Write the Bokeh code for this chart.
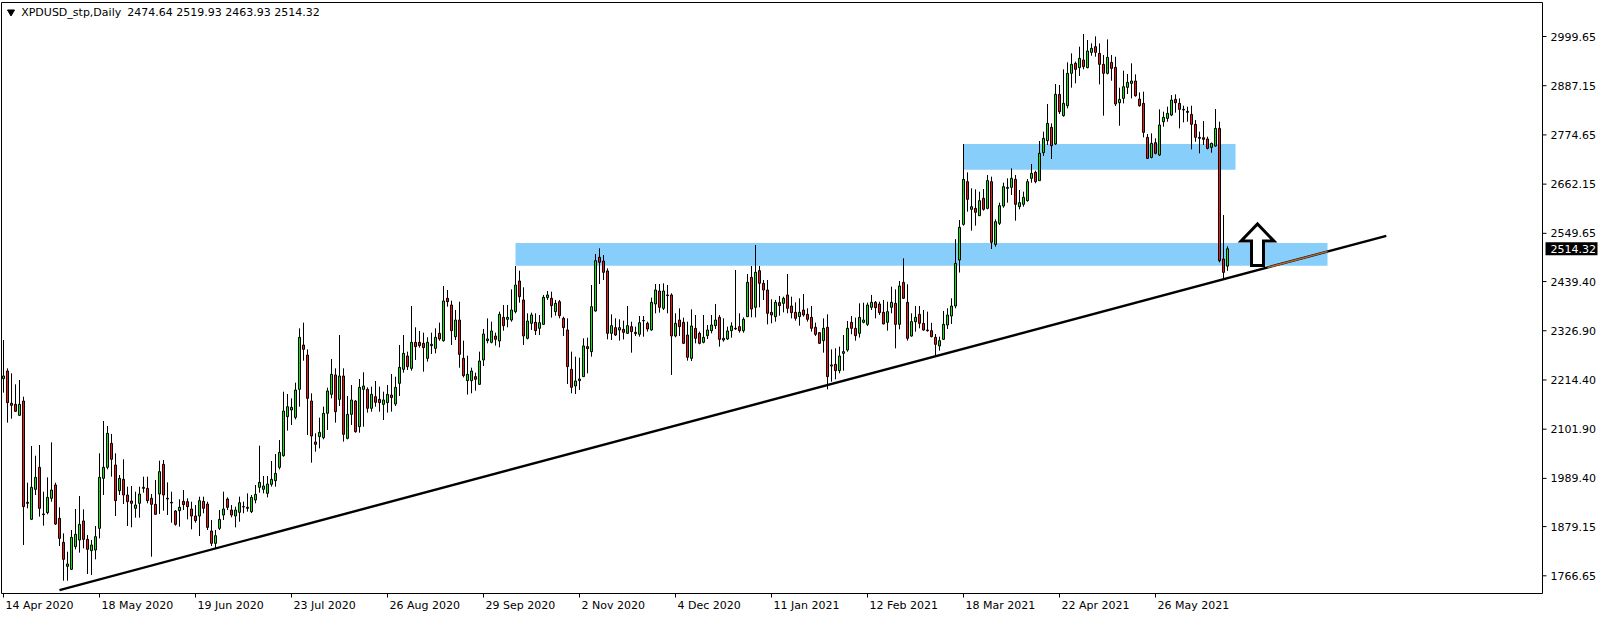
from bokeh.plotting import figure
from bokeh.models import Range1d, ColumnDataSource
from bokeh.core.properties import value
from bokeh.embed import file_html
from bokeh.resources import INLINE

symbol = "XPDUSD_stp,Daily"
last_ohlc = [2474.64, 2519.93, 2463.93, 2514.32]

opens = [
    2217.4, 2234.9, 2161.0, 2158.7, 2133.6, 2166.3, 1934.6, 1895.8, 1964.4, 2014.7,
    1908.0, 1911.0, 1943.8, 1974.3, 1898.1, 1843.2, 1788.3, 1781.4, 1833.3, 1848.5,
    1892.0, 1850.0, 1824.1, 1825.7, 1875.2, 1989.5, 2014.7, 2069.5, 2020.0, 1961.3,
    1987.2, 1951.4, 1937.7, 1920.9, 1932.4, 1966.6, 1966.6, 1943.8, 1930.1, 1953.7,
    2021.5, 1942.2, 1934.6, 1914.8, 1915.6, 1936.9, 1936.1, 1919.4, 1903.4, 1903.4,
    1936.9, 1930.8, 1869.1, 1840.9, 1875.2, 1905.6, 1942.2, 1917.1, 1903.4, 1911.8,
    1924.7, 1923.2, 1913.3, 1939.9, 1968.9, 1964.3, 1955.2, 1975.8, 1984.1, 2014.6,
    2041.3, 2130.5, 2145.7, 2128.9, 2193.0, 2294.3, 2271.4, 2166.3, 2072.6, 2084.8,
    2082.5, 2138.1, 2181.6, 2225.8, 2170.1, 2223.5, 2081.0, 2135.8, 2166.3, 2107.6,
    2193.0, 2193.0, 2149.6, 2176.2, 2170.1, 2158.7, 2162.5, 2180.0, 2159.5, 2206.7,
    2238.7, 2269.2, 2241.0, 2300.5, 2300.5, 2298.2, 2263.9, 2292.9, 2286.7, 2321.0,
    2304.3, 2401.1, 2385.8, 2313.4, 2351.5, 2263.9, 2212.8, 2212.8, 2222.0, 2204.4,
    2260.1, 2304.3, 2300.5, 2314.9, 2303.5, 2357.6, 2353.1, 2351.5, 2370.6, 2440.7,
    2397.3, 2309.6, 2343.9, 2346.2, 2332.5, 2341.6, 2402.6, 2401.1, 2370.6, 2393.4,
    2355.3, 2328.7, 2238.7, 2200.6, 2212.8, 2222.0, 2290.6, 2279.1, 2372.1, 2494.8,
    2486.4, 2463.6, 2321.0, 2334.0, 2328.7, 2330.2, 2321.0, 2336.3, 2323.3, 2318.8,
    2349.9, 2343.9, 2328.7, 2388.1, 2417.8, 2378.2, 2408.7, 2408.7, 2315.0, 2351.5,
    2346.2, 2317.2, 2263.9, 2332.5, 2321.0, 2300.5, 2315.7, 2327.1, 2338.6, 2357.6,
    2309.6, 2308.1, 2327.1, 2332.5, 2336.3, 2327.1, 2359.1, 2449.1, 2380.5, 2464.3,
    2435.4, 2420.1, 2369.1, 2359.1, 2391.2, 2389.6, 2408.7, 2383.5, 2369.1, 2359.1,
    2374.4, 2364.5, 2357.6, 2334.8, 2322.6, 2304.3, 2334.8, 2246.4, 2250.2, 2235.7,
    2275.3, 2282.9, 2346.2, 2332.5, 2321.0, 2346.2, 2341.6, 2380.5, 2391.9, 2388.1,
    2369.1, 2346.2, 2380.5, 2389.6, 2341.6, 2437.6, 2391.9, 2314.9, 2347.7, 2364.5,
    2343.9, 2328.7, 2327.1, 2311.9, 2292.1, 2307.3, 2340.1, 2360.7, 2383.5, 2488.7,
    2570.2, 2667.8, 2604.5, 2606.8, 2590.0, 2629.7, 2606.8, 2667.8, 2524.5, 2572.5,
    2612.1, 2652.5, 2654.8, 2673.1, 2610.6, 2616.0, 2624.3, 2675.4, 2689.1, 2670.1,
    2734.1, 2761.5, 2792.0, 2753.9, 2867.4, 2818.7, 2841.5, 2915.5, 2938.3, 2928.4,
    2946.0, 2928.4, 2963.4, 2976.4, 2961.1, 2936.0, 2915.4, 2940.5, 2929.1, 2848.3,
    2858.2, 2883.4, 2892.5, 2897.9, 2856.7, 2846.8, 2769.1, 2723.3, 2756.9, 2728.7,
    2804.9, 2812.5, 2820.1, 2855.9, 2846.8, 2833.1, 2828.5, 2821.6, 2798.8, 2769.1,
    2768.3, 2765.3, 2746.2, 2749.3, 2789.6, 2490.9, 2474.64,
]
highs = [
    2305.8, 2241.0, 2229.6, 2204.4, 2214.3, 2176.2, 1979.6, 2063.4, 2041.3, 2065.7,
    1959.0, 1991.8, 2071.8, 1979.6, 1923.2, 1863.8, 1821.8, 1871.4, 1919.4, 1949.1,
    1918.6, 1859.9, 1848.5, 1880.5, 2046.7, 2120.6, 2109.2, 2090.9, 2046.7, 1997.1,
    2033.0, 1970.5, 1972.0, 1959.0, 1970.5, 1993.3, 1993.3, 1953.7, 1985.7, 2029.9,
    2031.4, 1980.3, 1959.0, 1917.1, 1941.5, 1962.8, 1943.8, 1936.1, 1928.5, 1947.6,
    1947.6, 1936.1, 1894.2, 1871.4, 1917.1, 1959.0, 1946.0, 1928.5, 1924.7, 1947.6,
    1936.1, 1955.2, 1951.4, 1974.3, 2064.2, 1994.8, 1994.8, 2029.1, 2045.1, 2077.1,
    2187.6, 2182.3, 2172.4, 2208.2, 2332.4, 2345.4, 2284.4, 2183.8, 2092.4, 2128.2,
    2153.4, 2196.8, 2262.4, 2241.0, 2317.2, 2241.0, 2177.8, 2202.9, 2168.6, 2216.6,
    2231.9, 2197.6, 2199.1, 2212.1, 2199.1, 2187.7, 2202.9, 2228.1, 2222.0, 2294.4,
    2317.2, 2279.1, 2383.5, 2334.8, 2326.4, 2322.6, 2311.9, 2322.6, 2332.5, 2345.4,
    2429.3, 2420.1, 2395.7, 2374.4, 2393.4, 2304.3, 2270.0, 2242.5, 2231.1, 2279.1,
    2331.0, 2355.3, 2347.7, 2322.6, 2370.6, 2385.8, 2385.8, 2421.6, 2475.0, 2464.3,
    2426.2, 2366.8, 2368.3, 2366.8, 2362.9, 2408.7, 2417.8, 2416.3, 2397.3, 2397.3,
    2359.1, 2355.3, 2279.1, 2267.7, 2265.4, 2309.6, 2311.1, 2431.5, 2502.4, 2515.4,
    2500.1, 2469.6, 2364.5, 2355.3, 2353.1, 2350.0, 2383.5, 2347.7, 2336.3, 2360.7,
    2360.7, 2347.7, 2402.6, 2433.8, 2433.8, 2435.4, 2431.5, 2412.5, 2366.8, 2378.2,
    2356.9, 2347.7, 2375.9, 2362.9, 2324.9, 2362.9, 2340.1, 2362.9, 2388.1, 2362.9,
    2355.3, 2336.3, 2346.2, 2465.8, 2366.8, 2357.6, 2456.7, 2475.0, 2523.0, 2475.0,
    2443.0, 2443.0, 2398.8, 2397.3, 2406.4, 2404.9, 2456.7, 2404.9, 2391.9, 2401.1,
    2411.0, 2378.2, 2383.5, 2345.4, 2323.3, 2355.3, 2364.5, 2284.4, 2286.7, 2290.6,
    2317.2, 2349.2, 2360.7, 2356.9, 2389.6, 2391.2, 2391.2, 2408.7, 2395.0, 2393.4,
    2397.3, 2393.4, 2427.7, 2421.6, 2440.7, 2492.5, 2433.1, 2366.8, 2383.5, 2383.5,
    2374.4, 2370.6, 2345.0, 2319.5, 2313.4, 2372.1, 2378.2, 2401.1, 2536.3, 2580.1,
    2753.9, 2689.1, 2652.5, 2650.2, 2644.9, 2651.0, 2683.0, 2679.2, 2581.7, 2619.8,
    2665.5, 2675.4, 2698.2, 2683.0, 2648.7, 2644.9, 2673.9, 2708.2, 2692.9, 2760.8,
    2782.1, 2845.4, 2801.1, 2891.1, 2888.8, 2924.6, 2940.6, 2961.2, 2942.1, 2976.4,
    3005.4, 2991.6, 2984.0, 3000.0, 2984.0, 2957.3, 2993.0, 2957.3, 2953.5, 2882.6,
    2921.5, 2913.9, 2938.3, 2913.1, 2871.9, 2873.5, 2776.7, 2778.2, 2766.8, 2833.1,
    2827.8, 2839.2, 2865.8, 2867.4, 2858.2, 2841.5, 2839.2, 2841.5, 2808.7, 2782.1,
    2806.4, 2770.6, 2756.9, 2833.8, 2804.9, 2591.5, 2519.93,
]
lows = [
    2185.4, 2116.8, 2125.9, 2141.9, 2132.0, 1837.1, 1920.9, 1894.3, 1951.4, 1901.9,
    1881.3, 1907.2, 1936.2, 1882.8, 1834.8, 1755.5, 1755.5, 1779.9, 1827.2, 1819.6,
    1829.5, 1770.8, 1768.5, 1804.3, 1852.3, 1951.4, 2010.1, 1993.3, 1903.4, 1951.4,
    1930.8, 1880.5, 1877.5, 1899.6, 1899.6, 1956.7, 1932.4, 1810.4, 1907.2, 1908.0,
    1915.6, 1905.6, 1888.1, 1881.3, 1879.0, 1917.1, 1895.7, 1872.9, 1888.1, 1857.6,
    1909.5, 1871.4, 1834.8, 1829.4, 1871.4, 1894.2, 1917.1, 1900.3, 1877.4, 1890.4,
    1909.5, 1913.3, 1910.0, 1932.3, 1956.7, 1955.2, 1946.0, 1970.5, 1970.5, 2010.0,
    2039.0, 2098.5, 2111.4, 2124.4, 2153.3, 2258.5, 2088.6, 2025.3, 2050.5, 2058.1,
    2078.7, 2100.0, 2172.4, 2116.8, 2154.9, 2073.4, 2078.7, 2111.5, 2093.9, 2093.9,
    2107.6, 2139.7, 2141.9, 2153.4, 2141.9, 2122.9, 2139.7, 2141.9, 2154.9, 2177.8,
    2231.1, 2237.2, 2235.7, 2260.1, 2288.3, 2233.4, 2256.3, 2273.8, 2275.3, 2304.3,
    2302.0, 2382.0, 2294.4, 2305.8, 2242.5, 2220.4, 2181.0, 2183.9, 2190.0, 2202.9,
    2246.4, 2298.2, 2298.2, 2292.9, 2289.0, 2327.1, 2334.8, 2347.7, 2366.8, 2391.2,
    2294.4, 2307.3, 2328.7, 2317.2, 2317.2, 2340.1, 2397.3, 2356.9, 2361.4, 2355.3,
    2315.0, 2205.2, 2183.9, 2182.3, 2191.5, 2222.0, 2229.6, 2267.7, 2370.6, 2433.8,
    2443.0, 2307.3, 2305.8, 2314.9, 2304.3, 2307.0, 2319.5, 2276.8, 2314.9, 2313.4,
    2313.4, 2324.9, 2327.1, 2366.8, 2368.3, 2374.4, 2366.8, 2225.8, 2311.9, 2315.0,
    2296.7, 2258.6, 2257.8, 2298.2, 2295.9, 2298.2, 2308.1, 2321.0, 2331.0, 2290.6,
    2302.0, 2305.8, 2311.1, 2328.7, 2322.6, 2322.6, 2359.1, 2357.6, 2357.6, 2380.5,
    2397.3, 2341.6, 2343.9, 2347.7, 2361.4, 2369.0, 2366.8, 2355.3, 2350.0, 2338.6,
    2359.1, 2347.7, 2324.9, 2315.0, 2296.7, 2276.8, 2193.0, 2210.6, 2215.9, 2229.6,
    2235.7, 2279.1, 2318.8, 2304.3, 2311.1, 2343.9, 2337.8, 2374.4, 2355.3, 2363.0,
    2341.6, 2327.1, 2366.8, 2286.7, 2330.2, 2399.6, 2304.3, 2313.4, 2324.9, 2332.5,
    2327.1, 2324.9, 2311.9, 2270.0, 2281.4, 2305.8, 2331.0, 2342.4, 2378.2, 2460.0,
    2567.2, 2599.2, 2555.8, 2567.2, 2590.0, 2601.5, 2604.5, 2513.8, 2519.2, 2568.7,
    2608.3, 2619.8, 2637.3, 2578.6, 2604.5, 2610.6, 2622.1, 2665.5, 2664.0, 2670.1,
    2726.5, 2751.6, 2719.6, 2751.6, 2822.5, 2816.4, 2835.4, 2882.7, 2892.6, 2909.4,
    2924.6, 2926.9, 2955.8, 2953.5, 2890.2, 2818.6, 2913.1, 2898.6, 2840.7, 2795.7,
    2846.8, 2868.1, 2858.2, 2862.0, 2839.2, 2769.1, 2719.5, 2721.1, 2730.2, 2726.4,
    2793.5, 2804.9, 2817.8, 2825.5, 2789.6, 2803.4, 2804.9, 2741.6, 2759.2, 2732.5,
    2751.6, 2741.6, 2734.0, 2747.7, 2483.3, 2446.7, 2463.93,
]
closes = [
    2223.5, 2162.5, 2156.4, 2142.7, 2158.7, 1924.7, 1932.4, 1968.9, 1991.8, 1920.9,
    1906.4, 1946.1, 1962.8, 1885.1, 1852.3, 1804.3, 1793.7, 1854.6, 1861.5, 1884.3,
    1850.0, 1827.2, 1837.1, 1856.1, 1991.8, 2014.7, 2092.4, 2033.0, 1938.5, 1989.5,
    1951.4, 1936.2, 1932.4, 1928.5, 1953.7, 1968.9, 1938.5, 1930.1, 1907.2, 2004.7,
    1951.4, 1943.8, 1933.1, 1884.3, 1923.2, 1929.3, 1924.7, 1903.4, 1892.7, 1938.5,
    1920.9, 1877.4, 1840.9, 1858.4, 1895.7, 1919.4, 1923.2, 1905.6, 1917.1, 1933.8,
    1924.0, 1920.9, 1946.0, 1952.9, 1980.3, 1972.0, 1976.5, 1987.2, 2000.9, 2048.9,
    2143.4, 2153.3, 2151.8, 2191.4, 2311.8, 2284.4, 2172.4, 2086.3, 2067.3, 2094.7,
    2138.1, 2189.2, 2227.3, 2141.9, 2223.5, 2090.1, 2135.8, 2168.6, 2096.2, 2197.6,
    2200.6, 2149.6, 2181.6, 2163.3, 2162.5, 2168.6, 2181.6, 2174.0, 2197.6, 2243.3,
    2275.3, 2244.8, 2300.5, 2290.6, 2292.9, 2288.3, 2300.5, 2295.9, 2311.9, 2308.1,
    2395.0, 2393.4, 2327.1, 2351.5, 2273.0, 2224.3, 2227.3, 2234.9, 2215.9, 2257.8,
    2319.5, 2308.1, 2326.4, 2307.3, 2364.5, 2338.6, 2357.6, 2374.4, 2431.5, 2404.9,
    2315.0, 2349.2, 2363.0, 2327.1, 2345.4, 2403.4, 2408.7, 2384.3, 2389.6, 2361.4,
    2334.0, 2244.8, 2197.6, 2212.1, 2216.6, 2292.1, 2286.0, 2382.0, 2487.2, 2483.4,
    2460.5, 2321.0, 2338.6, 2317.2, 2334.0, 2323.3, 2338.6, 2324.9, 2320.3, 2345.4,
    2350.5, 2331.0, 2391.9, 2420.1, 2380.5, 2417.8, 2407.2, 2315.0, 2343.9, 2336.3,
    2298.2, 2266.2, 2337.8, 2309.6, 2298.2, 2311.9, 2328.7, 2340.1, 2351.5, 2307.3,
    2305.8, 2326.4, 2337.8, 2331.0, 2327.1, 2353.1, 2437.6, 2376.7, 2460.5, 2435.4,
    2420.1, 2366.8, 2363.0, 2391.9, 2384.3, 2401.1, 2378.2, 2368.3, 2355.3, 2369.1,
    2363.0, 2353.1, 2332.5, 2318.8, 2298.2, 2332.5, 2222.0, 2248.8, 2235.7, 2269.2,
    2279.1, 2332.5, 2332.5, 2315.7, 2357.6, 2351.5, 2385.8, 2391.9, 2379.7, 2368.3,
    2342.4, 2370.6, 2391.9, 2341.6, 2429.3, 2401.1, 2309.6, 2347.7, 2357.6, 2343.9,
    2328.7, 2327.1, 2313.4, 2295.9, 2304.3, 2341.6, 2363.0, 2383.5, 2481.1, 2563.4,
    2673.1, 2627.4, 2610.6, 2597.7, 2624.3, 2604.5, 2670.1, 2529.1, 2576.3, 2612.9,
    2656.3, 2654.8, 2675.4, 2616.0, 2619.8, 2632.0, 2667.8, 2686.8, 2667.8, 2732.6,
    2766.8, 2801.1, 2750.1, 2867.4, 2827.8, 2846.9, 2915.5, 2936.0, 2924.6, 2949.8,
    2930.7, 2966.5, 2972.5, 2963.4, 2936.0, 2915.4, 2952.0, 2926.8, 2845.3, 2855.9,
    2884.9, 2894.8, 2897.9, 2864.3, 2841.5, 2780.5, 2721.1, 2755.4, 2732.5, 2797.3,
    2814.8, 2824.0, 2854.4, 2848.3, 2833.1, 2831.6, 2826.2, 2798.8, 2769.1, 2766.8,
    2764.5, 2743.9, 2755.4, 2789.6, 2487.1, 2460.4, 2514.32,
]

date_tick_bars = [0, 24, 48, 72, 96, 120, 144, 168, 192, 216, 240, 264, 288]
date_tick_labels = ["14 Apr 2020", "18 May 2020", "19 Jun 2020", "23 Jul 2020",
                    "26 Aug 2020", "29 Sep 2020", "2 Nov 2020", "4 Dec 2020",
                    "11 Jan 2021", "12 Feb 2021", "18 Mar 2021", "22 Apr 2021",
                    "26 May 2021"]
price_ticks = [2999.65, 2887.15, 2774.65, 2662.15, 2549.65, 2439.40,
               2326.90, 2214.40, 2101.90, 1989.40, 1879.15, 1766.65]

# supply/demand zones: [from bar, to bar, low price, high price]
zone_from = [128, 240]
zone_to = [331, 308]
zone_low = [2475.8, 2695.2]
zone_high = [2527.6, 2753.9]

# trend line: bar index and price at both ends
trend_bars = [14.0, 345.7]
trend_prices = [1734.0, 2544.0]
overlay_bars = [316.0, 331.0]

# up arrow (hollow)
arrow_bar = 313.5
arrow_bottom = 2476.0
arrow_neck = 2532.0
arrow_tip = 2571.0
arrow_head_half = 4.1
arrow_shaft_half = 1.5

# price window shown between the chart's top and bottom borders
price_top, price_bottom = 3077.4, 1726.2

# ---------------- styling / layout ----------------
BULL = "#00f000"
BEAR = "#ff1010"
FONT = "DejaVu Sans"
FS = "11px"
W, H = 1600, 616
PX_BAR = 4.0                       # pixels per daily bar
CHART_L_PX, CHART_R_PX = 1.0, 1542.0
CHART_T_PX, CHART_B_PX = 2.0, 593.0
BAR0_PX = 3.0

x_start = -BAR0_PX / PX_BAR
x_end = x_start + W / PX_BAR
chart_left = x_start + CHART_L_PX / PX_BAR
chart_right = x_start + CHART_R_PX / PX_BAR
ppx = (price_top - price_bottom) / (CHART_B_PX - CHART_T_PX)   # price per pixel
y_hi = price_top + CHART_T_PX * ppx
y_lo = y_hi - H * ppx

n = len(opens)
idx = list(range(n))
colors = [BULL if c >= o else BEAR for o, c in zip(opens, closes)]
src = ColumnDataSource(dict(
    x=idx, h=highs, l=lows,
    top=[max(o, c) for o, c in zip(opens, closes)],
    bottom=[min(o, c) for o, c in zip(opens, closes)],
    color=colors,
))

p = figure(width=W, height=H, x_range=Range1d(x_start, x_end), y_range=Range1d(y_lo, y_hi),
           x_axis_location=None, y_axis_location=None,
           output_backend="svg", toolbar_location=None, min_border=0,
           background_fill_color="white", border_fill_color="white")
p.outline_line_color = None
p.grid.visible = False

# zones (behind candles)
p.quad(left=zone_from, right=zone_to, bottom=zone_low, top=zone_high,
       fill_color="#87cefa", line_color=None)

# wicks and bodies
p.segment(x0="x", y0="l", x1="x", y1="h", source=src, line_color="black", line_width=1)
p.vbar(x="x", top="top", bottom="bottom", width=2.0 / PX_BAR, source=src,
       fill_color="color", line_color="black", line_width=1)

# trend line
p.line(trend_bars, trend_prices, line_color="black", line_width=2.4)
slope = (trend_prices[1] - trend_prices[0]) / (trend_bars[1] - trend_bars[0])
ov_prices = [trend_prices[0] + slope * (b - trend_bars[0]) for b in overlay_bars]
p.line(overlay_bars, ov_prices, line_color="#b5652a", line_width=1.5)

# hollow up arrow
cx, hw, sw = arrow_bar, arrow_head_half, arrow_shaft_half
ax = [cx - sw, cx - sw, cx - hw, cx, cx + hw, cx + sw, cx + sw]
ay = [arrow_bottom, arrow_neck, arrow_neck, arrow_tip, arrow_neck, arrow_neck, arrow_bottom]
p.patch(ax, ay, fill_color="white", line_color="black", line_width=3, line_join="miter")

# chart border
p.quad(left=[chart_left], right=[chart_right], bottom=[price_bottom], top=[price_top],
       fill_color=None, line_color="black", line_width=1)

# price scale on the right (ticks + labels)
bpx = 1.0 / PX_BAR
p.segment(x0=[chart_right] * len(price_ticks), y0=price_ticks,
          x1=[chart_right + 4 * bpx] * len(price_ticks), y1=price_ticks,
          line_color="black", line_width=1)
p.text(x=[chart_right + 8 * bpx] * len(price_ticks), y=price_ticks,
       text=[f"{t:.2f}" for t in price_ticks], text_font=value(FONT),
       text_font_size=value(FS), text_align="left", text_baseline="middle",
       text_color="black")

# current price box
last = last_ohlc[3]
p.quad(left=[chart_right + 3 * bpx], right=[chart_right + 55 * bpx],
       bottom=[last - 6.5 * ppx], top=[last + 6.5 * ppx],
       fill_color="black", line_color=None)
p.text(x=[chart_right + 8 * bpx], y=[last], text=[f"{last:.2f}"], text_font=value(FONT),
       text_font_size=value(FS), text_align="left", text_baseline="middle",
       text_color="white")

# time scale at the bottom (ticks + left-aligned labels)
p.segment(x0=date_tick_bars, y0=[price_bottom] * len(date_tick_bars),
          x1=date_tick_bars, y1=[price_bottom - 4 * ppx] * len(date_tick_bars),
          line_color="black", line_width=1)
p.text(x=[b + 2 * bpx for b in date_tick_bars], y=[price_bottom - 5.5 * ppx] * len(date_tick_bars),
       text=date_tick_labels, text_font=value(FONT), text_font_size=value(FS),
       text_align="left", text_baseline="top", text_color="black")

# header inside chart
p.scatter(x=[chart_left + 9.5 * bpx], y=[price_top - 9.5 * ppx], marker="inverted_triangle",
          size=7, fill_color="black", line_color="black")
p.text(x=[chart_left + 19.7 * bpx], y=[price_top - 10.2 * ppx], text=[symbol],
       text_font=value(FONT), text_font_size=value(FS), text_align="left",
       text_baseline="middle", text_color="black")
p.text(x=[chart_left + 125.7 * bpx], y=[price_top - 10.2 * ppx],
       text=[" ".join(f"{v:.2f}" for v in last_ohlc)],
       text_font=value(FONT), text_font_size=value(FS), text_align="left",
       text_baseline="middle", text_color="black")

open("out.html", "w").write(file_html(p, INLINE))
